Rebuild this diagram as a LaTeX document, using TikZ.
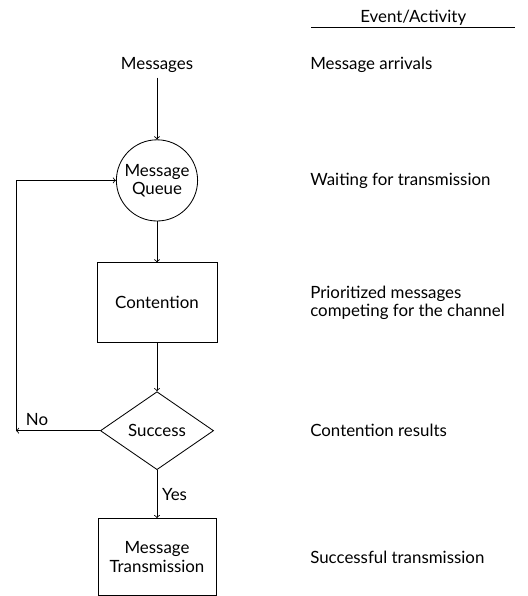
\documentclass[tikz,border=0pt]{standalone}
\usepackage{fontspec}
\setmainfont{Lato}
\usetikzlibrary{positioning}
\usetikzlibrary{shapes.geometric}
\tikzset{queue node/.style={circle,draw,semithick,minimum size=2.03cm,inner sep=0pt,align=center},
         box node/.style={rectangle,draw,semithick,minimum width=3cm,minimum height=2cm,inner sep=0pt,align=center},
         test node/.style={diamond,draw,semithick,minimum width=2.83cm,minimum height=1.95cm,inner sep=0pt},
         event node/.style={anchor=west,align=left,inner sep=0pt},
            }

\begin{document}
\begin{tikzpicture}[font=\fontsize{12}{13}\selectfont]
\useasboundingbox (0,0) rectangle (13.2,-14.9);
 \node[queue node] (que) at (3.925,-4.51) {Message\\Queue};
 \node (msg) at (3.925,-1.625) {Messages};
 \node[box node] (con)[below=1.025cm of que] {Contention};
 \node[test node] (suc)[below=1.2cm of con] {Success};
 \node[box node,minimum width=2.95cm,minimum height=1.93cm] (trn)[below=1.2cm of suc] {Message\\Transmission};
 \coordinate[left=2.1cm of suc.west] (loop);

 % event column
 \coordinate (col) at (7.75,0);
 \node[minimum width=5.08cm,inner xsep=0pt,inner ysep=1pt] (head) at (10.33,-0.45) {Event/Activity};
 \node[event node] (ev1) at (col |- msg) {Message arrivals};
 \node[event node] (ev2) at (col |- que) {Waiting for transmission};
 \node[event node] (ev3) at (col |- con) {Prioritized messages\\competing for the channel};
 \node[event node] (ev4) at (col |- suc) {Contention results};
 \node[event node] (ev5) at (col |- trn) {Successful transmission};
 \draw[semithick] (head.south west) -- (head.south east);

    \path[draw,semithick,->]
        (msg)  edge node {} (que);
    \path[draw,semithick,->]
        (que)  edge node {} (con);
    \path[draw,semithick,->]
        (con)  edge node {} (suc);
    \path[draw,semithick,->]
        (suc)  edge node[right] {Yes} (trn);
    \path[draw,semithick,->]
        (suc)  edge node[pos=0.75,above] {No} (loop);
    \draw[semithick,->] (loop) |- (que.west);
\end{tikzpicture}
\end{document}
